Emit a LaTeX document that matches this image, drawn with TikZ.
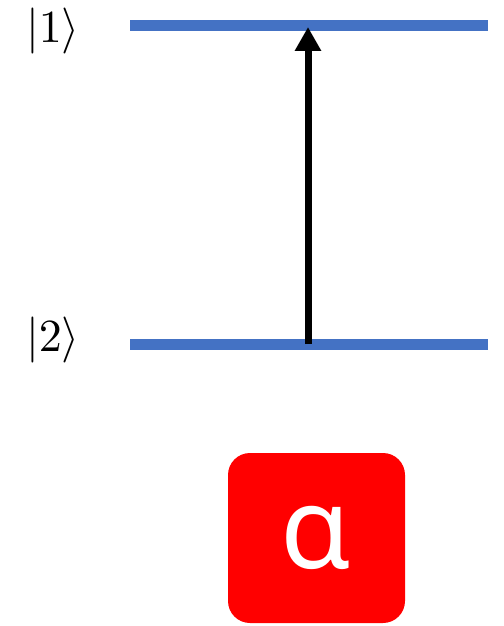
\documentclass[tikz,border=0pt]{standalone}
\usepackage{fontspec}
\newfontfamily\greekfont{Noto Sans}
\usetikzlibrary{arrows.meta}
\definecolor{levelblue}{HTML}{4472C4}
\newcommand{\bigket}[1]{\scalebox{4.6}{$|#1\rangle$}}
\begin{document}
\begin{tikzpicture}[x=1pt,y=-1pt,
  level/.style={draw=levelblue,line width=11pt},
  lbl/.style={inner sep=0pt},
  trans/.style={line width=7pt,-{Triangle[width=25pt,length=24pt]}},
  badge/.style={fill=red,rounded corners=22pt,minimum width=177pt,minimum height=170pt,inner sep=0pt,text=white,font=\greekfont\fontsize{114}{120}\selectfont}]
\useasboundingbox (0,0) rectangle (503,626);
\coordinate (t1) at (130,26);
\coordinate (t2) at (488,26);
\coordinate (b1) at (130,344);
\coordinate (b2) at (488,344);
\draw[level] (t1) -- (t2);
\draw[level] (b1) -- (b2);
\node[lbl] (k1) at (53,31) {\bigket{1}};
\node[lbl] (k2) at (53,340) {\bigket{2}};
\coordinate (as) at (308,344);
\coordinate (ae) at (308,27);
\draw[trans] (as) -- (ae);
\node[badge] (al) at (316.5,538) {α};
\end{tikzpicture}
\end{document}
